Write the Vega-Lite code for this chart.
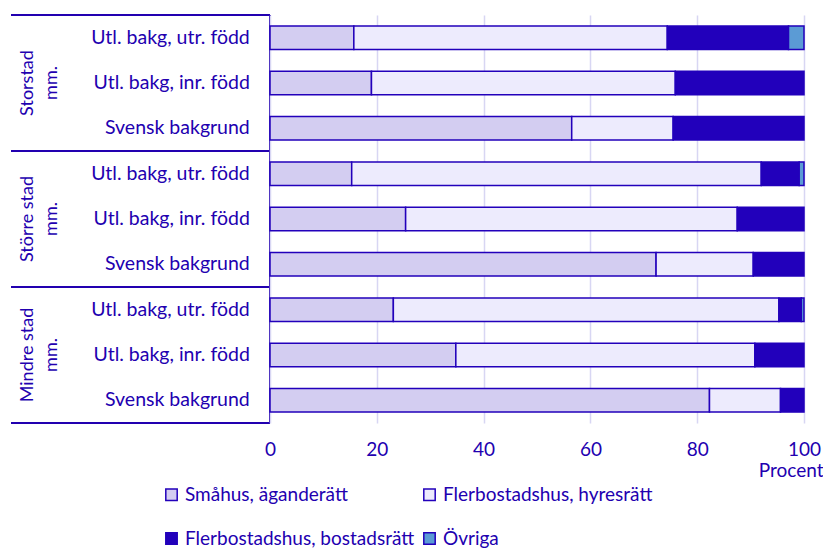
{
  "$schema": "https://vega.github.io/schema/vega-lite/v6.json",
  "padding": {"left": 10, "top": 14, "right": 0, "bottom": 0},
  "bounds": "flush",
  "config": {"font": "Lato", "view": {"stroke": null}, "concat": {"spacing": 0}},
  "datasets": {
    "bars": [
      {"grp": "Storstad mm.", "bak": "Utl. bakg, utr. född", "typ": "Småhus, äganderätt", "pct": 15.7},
      {"grp": "Storstad mm.", "bak": "Utl. bakg, utr. född", "typ": "Flerbostadshus, hyresrätt", "pct": 58.7},
      {"grp": "Storstad mm.", "bak": "Utl. bakg, utr. född", "typ": "Flerbostadshus, bostadsrätt", "pct": 22.7},
      {"grp": "Storstad mm.", "bak": "Utl. bakg, utr. född", "typ": "Övriga", "pct": 2.9},
      {"grp": "Storstad mm.", "bak": "Utl. bakg, inr. född", "typ": "Småhus, äganderätt", "pct": 19.0},
      {"grp": "Storstad mm.", "bak": "Utl. bakg, inr. född", "typ": "Flerbostadshus, hyresrätt", "pct": 56.9},
      {"grp": "Storstad mm.", "bak": "Utl. bakg, inr. född", "typ": "Flerbostadshus, bostadsrätt", "pct": 24.1},
      {"grp": "Storstad mm.", "bak": "Svensk bakgrund", "typ": "Småhus, äganderätt", "pct": 56.5},
      {"grp": "Storstad mm.", "bak": "Svensk bakgrund", "typ": "Flerbostadshus, hyresrätt", "pct": 19.0},
      {"grp": "Storstad mm.", "bak": "Svensk bakgrund", "typ": "Flerbostadshus, bostadsrätt", "pct": 24.5},
      {"grp": "Större stad mm.", "bak": "Utl. bakg, utr. född", "typ": "Småhus, äganderätt", "pct": 15.3},
      {"grp": "Större stad mm.", "bak": "Utl. bakg, utr. född", "typ": "Flerbostadshus, hyresrätt", "pct": 76.7},
      {"grp": "Större stad mm.", "bak": "Utl. bakg, utr. född", "typ": "Flerbostadshus, bostadsrätt", "pct": 7.1},
      {"grp": "Större stad mm.", "bak": "Utl. bakg, utr. född", "typ": "Övriga", "pct": 0.9},
      {"grp": "Större stad mm.", "bak": "Utl. bakg, inr. född", "typ": "Småhus, äganderätt", "pct": 25.4},
      {"grp": "Större stad mm.", "bak": "Utl. bakg, inr. född", "typ": "Flerbostadshus, hyresrätt", "pct": 62.1},
      {"grp": "Större stad mm.", "bak": "Utl. bakg, inr. född", "typ": "Flerbostadshus, bostadsrätt", "pct": 12.5},
      {"grp": "Större stad mm.", "bak": "Svensk bakgrund", "typ": "Småhus, äganderätt", "pct": 72.3},
      {"grp": "Större stad mm.", "bak": "Svensk bakgrund", "typ": "Flerbostadshus, hyresrätt", "pct": 18.2},
      {"grp": "Större stad mm.", "bak": "Svensk bakgrund", "typ": "Flerbostadshus, bostadsrätt", "pct": 9.5},
      {"grp": "Mindre stad mm.", "bak": "Utl. bakg, utr. född", "typ": "Småhus, äganderätt", "pct": 23.1},
      {"grp": "Mindre stad mm.", "bak": "Utl. bakg, utr. född", "typ": "Flerbostadshus, hyresrätt", "pct": 72.2},
      {"grp": "Mindre stad mm.", "bak": "Utl. bakg, utr. född", "typ": "Flerbostadshus, bostadsrätt", "pct": 4.2},
      {"grp": "Mindre stad mm.", "bak": "Utl. bakg, utr. född", "typ": "Övriga", "pct": 0.5},
      {"grp": "Mindre stad mm.", "bak": "Utl. bakg, inr. född", "typ": "Småhus, äganderätt", "pct": 34.8},
      {"grp": "Mindre stad mm.", "bak": "Utl. bakg, inr. född", "typ": "Flerbostadshus, hyresrätt", "pct": 56.0},
      {"grp": "Mindre stad mm.", "bak": "Utl. bakg, inr. född", "typ": "Flerbostadshus, bostadsrätt", "pct": 9.2},
      {"grp": "Mindre stad mm.", "bak": "Svensk bakgrund", "typ": "Småhus, äganderätt", "pct": 82.3},
      {"grp": "Mindre stad mm.", "bak": "Svensk bakgrund", "typ": "Flerbostadshus, hyresrätt", "pct": 13.3},
      {"grp": "Mindre stad mm.", "bak": "Svensk bakgrund", "typ": "Flerbostadshus, bostadsrätt", "pct": 4.4}
    ],
    "groups": [
      {"label": "Storstad\nmm.", "mid": "Storstad mm.|Utl. bakg, inr. född", "first": "Storstad mm.|Utl. bakg, utr. född"},
      {"label": "Större stad\nmm.", "mid": "Större stad mm.|Utl. bakg, inr. född", "first": "Större stad mm.|Utl. bakg, utr. född"},
      {"label": "Mindre stad\nmm.", "mid": "Mindre stad mm.|Utl. bakg, inr. född", "first": "Mindre stad mm.|Utl. bakg, utr. född"}
    ]
  },
  "hconcat": [
    {
      "width": 259,
      "height": 408,
      "layer": [
        {
          "data": {"name": "bars"},
          "transform": [
            {"filter": "datum.typ == 'Småhus, äganderätt'"},
            {"calculate": "datum.grp + '|' + datum.bak", "as": "key"}
          ],
          "mark": {"type": "text", "align": "right", "baseline": "middle", "fontSize": 19.5, "color": "#2200B0"},
          "encoding": {
            "y": {"field": "key", "type": "nominal", "axis": null,
              "scale": {"paddingInner": 0, "paddingOuter": 0, "domain": [
                "Storstad mm.|Utl. bakg, utr. född", "Storstad mm.|Utl. bakg, inr. född", "Storstad mm.|Svensk bakgrund",
                "Större stad mm.|Utl. bakg, utr. född", "Större stad mm.|Utl. bakg, inr. född", "Större stad mm.|Svensk bakgrund",
                "Mindre stad mm.|Utl. bakg, utr. född", "Mindre stad mm.|Utl. bakg, inr. född", "Mindre stad mm.|Svensk bakgrund"]}},
            "x": {"datum": 92.2, "type": "quantitative", "scale": {"domain": [0, 100]}, "axis": null},
            "text": {"field": "bak"}
          }
        },
        {
          "data": {"name": "groups"},
          "mark": {"type": "text", "angle": 270, "align": "center", "baseline": "middle", "lineBreak": "\n", "fontSize": 18, "lineHeight": 24, "color": "#2200B0"},
          "encoding": {
            "y": {"field": "mid", "type": "nominal"},
            "x": {"datum": 6.5, "type": "quantitative"},
            "text": {"field": "label"}
          }
        },
        {
          "data": {"name": "groups"},
          "mark": {"type": "rule", "color": "#2200B0", "strokeWidth": 2},
          "encoding": {"y": {"field": "first", "type": "nominal", "bandPosition": 0}}
        },
        {
          "data": {"values": [{"last": "Mindre stad mm.|Svensk bakgrund"}]},
          "mark": {"type": "rule", "color": "#2200B0", "strokeWidth": 2},
          "encoding": {"y": {"field": "last", "type": "nominal", "bandPosition": 1}}
        },
        {
          "data": {"values": [{}]},
          "mark": {"type": "rule", "color": "#2200B0", "strokeWidth": 2},
          "encoding": {"x": {"datum": 100, "type": "quantitative"}}
        }
      ]
    },
    {
      "width": 534,
      "height": 408,
      "data": {"name": "bars"},
      "transform": [
        {"calculate": "datum.grp + '|' + datum.bak", "as": "key"},
        {"calculate": "indexof(['Småhus, äganderätt', 'Flerbostadshus, hyresrätt', 'Flerbostadshus, bostadsrätt', 'Övriga'], datum.typ)", "as": "stackorder"}
      ],
      "mark": {"type": "bar", "stroke": "#2200BB", "strokeWidth": 1.5},
      "encoding": {
        "y": {"field": "key", "type": "nominal", "axis": null,
          "scale": {"paddingInner": 0.48, "paddingOuter": 0.24, "domain": [
            "Storstad mm.|Utl. bakg, utr. född", "Storstad mm.|Utl. bakg, inr. född", "Storstad mm.|Svensk bakgrund",
            "Större stad mm.|Utl. bakg, utr. född", "Större stad mm.|Utl. bakg, inr. född", "Större stad mm.|Svensk bakgrund",
            "Mindre stad mm.|Utl. bakg, utr. född", "Mindre stad mm.|Utl. bakg, inr. född", "Mindre stad mm.|Svensk bakgrund"]}},
        "x": {"field": "pct", "type": "quantitative", "stack": "zero", "scale": {"domain": [0, 100]},
          "axis": {"values": [0, 20, 40, 60, 80, 100], "grid": true, "gridColor": "#D8D6F3", "gridWidth": 1.5,
            "domain": false, "ticks": false, "labelFlush": false, "labelFontSize": 19, "labelColor": "#2200B0", "labelPadding": 17,
            "title": "Procent", "titleFontSize": 19, "titleFontWeight": "normal", "titleColor": "#2200B0",
            "titleAlign": "right", "titleX": 553, "titlePadding": 2}},
        "order": {"field": "stackorder", "type": "quantitative", "sort": "ascending"},
        "color": {"field": "typ", "type": "nominal",
          "sort": ["Småhus, äganderätt", "Flerbostadshus, hyresrätt", "Flerbostadshus, bostadsrätt", "Övriga"],
          "scale": {"domain": ["Småhus, äganderätt", "Flerbostadshus, hyresrätt", "Flerbostadshus, bostadsrätt", "Övriga"],
            "range": ["#D3CDF1", "#EDEBFD", "#2200BB", "#5B9BD5"]},
          "legend": {"orient": "none", "legendX": 151, "legendY": 470, "columns": 2, "title": null, "direction": "horizontal",
            "symbolType": "square", "symbolSize": 130, "symbolStrokeColor": "#2200BB", "symbolStrokeWidth": 1.5, "symbolOpacity": 1,
            "labelFontSize": 19, "labelLimit": 0, "labelColor": "#2200B0", "labelOffset": 4, "rowPadding": 24, "columnPadding": 5}}
      }
    }
  ],
  "resolve": {"scale": {"y": "independent", "x": "independent"}}
}
